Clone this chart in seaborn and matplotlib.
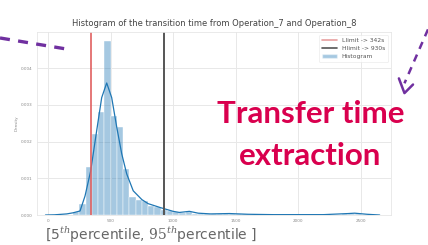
import numpy as np
import pandas as pd
import seaborn as sns
import matplotlib.pyplot as plt
from matplotlib.lines import Line2D
from matplotlib.patches import Patch

# histogram of transition times (density per 50 s bin)
bin_edges = [200, 250, 300, 350, 400, 450, 500, 550, 600, 650, 700, 750, 800, 850,
             900, 950, 1000, 1050, 1100, 1150, 1200, 1250, 1300, 1350, 1400, 1450,
             1500, 1550, 1600, 1650, 1700, 1750, 1800, 1850, 1900, 1950, 2000, 2050,
             2100, 2150, 2200, 2250, 2300, 2350, 2400, 2450, 2500, 2550, 2600]
hist_density = [0.00008, 0.0003, 0.0013, 0.0022, 0.0028, 0.00475, 0.0027, 0.0024,
                0.00125, 0.0005, 0.0004, 0.00038, 0.00025, 0.00022, 0.00015, 0.0001,
                0.00008, 0.00006, 0.00008, 0.00004, 0.00002, 0.00002, 0.00002, 0.00002,
                0.00004, 0.00002, 0.00002, 0.00002, 0.0, 0.00001, 0.0, 0.00001, 0.0,
                0.0, 0.00001, 0.0, 0.0, 0.00001, 0.0, 0.0, 0.00001, 0.0, 0.00001,
                0.00002, 0.00004, 0.00002, 0.00001, 0.00001]

# kde curve
kde_x = [-20, 50, 150, 200, 256, 296, 341, 389, 429, 469, 509, 549, 589, 629, 681,
         750, 800, 900, 1000, 1050, 1130, 1200, 1300, 1450, 1600, 1800, 2000, 2200,
         2400, 2450, 2550, 2650]
kde_y = [0.0, 0.000005, 0.00003, 0.00006, 0.00011, 0.00052, 0.0012, 0.0023, 0.0032,
         0.0036, 0.0032, 0.0024, 0.00167, 0.00112, 0.00066, 0.00042, 0.00031, 0.0002,
         0.0001, 0.00007, 0.0001, 0.00005, 0.00003, 0.00004, 0.00002, 0.00001,
         0.00001, 0.00001, 0.00004, 0.00005, 0.00002, 0.0]

llimit = 342
hlimit = 930

centers = [(a + b) / 2 for a, b in zip(bin_edges[:-1], bin_edges[1:])]
df = pd.DataFrame({'t': centers, 'd': hist_density})
df_kde = pd.DataFrame({'t': kde_x, 'd': kde_y})

sns.set_style('whitegrid')
plt.rcParams['font.family'] = ['DejaVu Sans']
plt.rcParams['mathtext.fontset'] = 'dejavuserif'

fig = plt.figure(figsize=(4.28, 2.45), dpi=100)
ax = fig.add_axes([0.0864, 0.1224, 0.827, 0.747])

blue = '#1f77b4'
sns.histplot(data=df, x='t', weights='d', bins=bin_edges, stat='count', ax=ax,
             color=blue, alpha=0.4, edgecolor='white', linewidth=0.3)
sns.lineplot(data=df_kde, x='t', y='d', ax=ax, color=blue, linewidth=0.9)
ax.axvline(llimit, color='#e06060', linewidth=1.2)
ax.axvline(hlimit, color='#555555', linewidth=1.4)

ax.set_xlim(-88, 2740)
ax.set_ylim(0, 0.00499)
ax.set_xticks([0, 500, 1000, 1500, 2000, 2500])
ax.set_yticks([0.0, 0.001, 0.002, 0.003, 0.004])
ax.set_yticklabels(['0.000', '0.001', '0.002', '0.003', '0.004'])
ax.tick_params(labelsize=3, colors='#888888', pad=3, length=0)
ax.set_xlabel('')
ax.set_ylabel('Density', fontsize=3, color='#888888', labelpad=2)
for s in ax.spines.values():
    s.set_color('#e6e6e6')
    s.set_linewidth(0.6)
ax.grid(color='#e8e8e8', linewidth=0.7)

ax.set_title('Histogram of the transition time from Operation_7 and Operation_8',
             fontsize=6, color='#444444', pad=4)

handles = [Line2D([], [], color='#e8a0a0', linewidth=1.2),
           Line2D([], [], color='#555555', linewidth=1.2),
           Patch(facecolor=blue, alpha=0.4)]
labels = ['Llimit -> ' + str(llimit) + 's', 'Hlimit -> ' + str(hlimit) + 's', 'Histogram']
leg = ax.legend(handles, labels, loc='upper right', fontsize=4.3, frameon=True,
                handlelength=2.5, labelcolor='#555555', borderpad=0.5)
leg.get_frame().set_edgecolor('#e6e6e6')
leg.get_frame().set_linewidth(0.5)

# slide decorations around the chart
crimson = '#d9004e'
fig.text(0.727, 0.535, 'Transfer time', ha='center', va='center', fontsize=22.5,
         fontweight='bold', color=crimson, family=['Lato', 'DejaVu Sans'])
fig.text(0.725, 0.365, 'extraction', ha='center', va='center', fontsize=22.5,
         fontweight='bold', color=crimson, family=['Lato', 'DejaVu Sans'])
fig.text(0.105, 0.04, r'[5$^{th}$percentile, $95^{th}$percentile ]', ha='left',
         va='center', fontsize=10, color='#666666')
fig.add_artist(Line2D([0.0, 0.155], [0.845, 0.80], transform=fig.transFigure,
                      color='#7030a0', linewidth=2.4, linestyle=(0, (3, 2.5))))
fig.add_artist(Line2D([1.0, 0.945], [0.88, 0.66], transform=fig.transFigure,
                      color='#7030a0', linewidth=1.8, linestyle=(0, (3, 2.5))))
fig.add_artist(Line2D([0.932, 0.945, 0.965], [0.68, 0.62, 0.655], transform=fig.transFigure,
                      color='#7030a0', linewidth=1.8))

fig.savefig('out.png', dpi=100)
